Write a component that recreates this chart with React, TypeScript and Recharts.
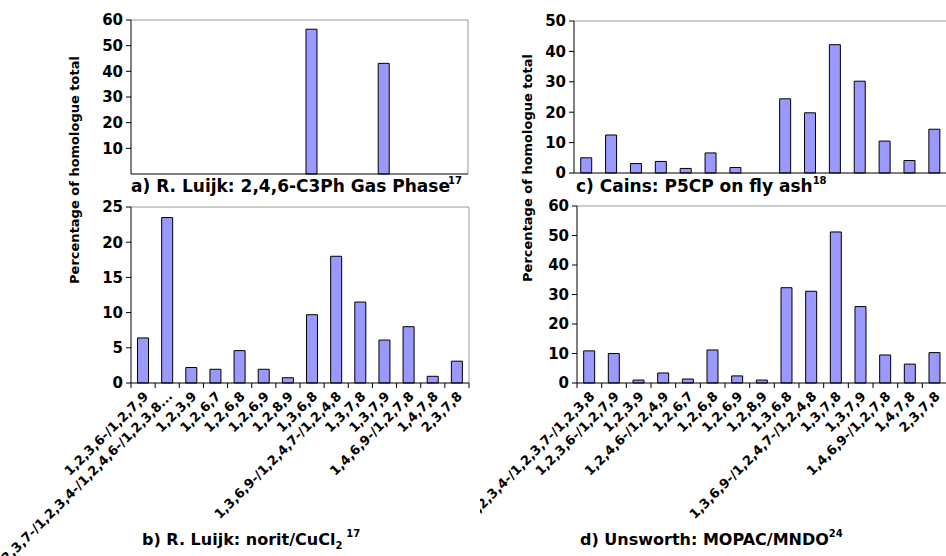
import React from "react";
import { Bar, BarChart, CartesianGrid, XAxis, YAxis } from "recharts";

// Categories (TCDD congeners / co-eluting groups)
const luijkCats = [
	"1,2,3,6-/1,2,7,9",
	"1,2,3,7-/1,2,3,4-/1,2,4,6-/1,2,3,8...",
	"1,2,3,9",
	"1,2,6,7",
	"1,2,6,8",
	"1,2,6,9",
	"1,2,8,9",
	"1,3,6,8",
	"1,3,6,9-/1,2,4,7-/1,2,4,8",
	"1,3,7,8",
	"1,3,7,9",
	"1,4,6,9-/1,2,7,8",
	"1,4,7,8",
	"2,3,7,8",
];
const unsworthCats = [
	"1,2,3,4-/1,2,3,7-/1,2,3,8",
	"1,2,3,6-/1,2,7,9",
	"1,2,3,9",
	"1,2,4,6-/1,2,4,9",
	"1,2,6,7",
	"1,2,6,8",
	"1,2,6,9",
	"1,2,8,9",
	"1,3,6,8",
	"1,3,6,9-/1,2,4,7-/1,2,4,8",
	"1,3,7,8",
	"1,3,7,9",
	"1,4,6,9-/1,2,7,8",
	"1,4,7,8",
	"2,3,7,8",
];

// Percentage of homologue total
const gasPhase = [0, 0, 0, 0, 0, 0, 0, 56.4, 0, 0, 43.1, 0, 0, 0];
const noritCuCl2 = [6.4, 23.5, 2.2, 1.95, 4.6, 1.95, 0.75, 9.7, 18.0, 11.5, 6.1, 8.0, 0.95, 3.1];
const flyAsh = [5.0, 12.5, 3.1, 3.8, 1.5, 6.6, 1.8, 0, 24.4, 19.8, 42.2, 30.2, 10.5, 4.1, 14.4];
const mopac = [10.9, 10.0, 1.0, 3.4, 1.35, 11.2, 2.4, 1.0, 32.3, 31.1, 51.2, 25.9, 9.5, 6.4, 10.3];

const ticksA = [10, 20, 30, 40, 50, 60];
const ticksB = [0, 5, 10, 15, 20, 25];
const ticksC = [0, 10, 20, 30, 40, 50];
const ticksD = [0, 10, 20, 30, 40, 50, 60];

const FONT = "'DejaVu Sans', Arial, sans-serif";
const BAR_FILL = "#9999ff";

const toRows = (cats: string[], vals: number[]) => cats.map((c, i) => ({ cat: c, v: vals[i] }));

const yTick = { fill: "#000", fontSize: 15, fontWeight: "bold", fontFamily: FONT };

function SlantTick(props: any) {
	const { x, y, payload, index, visibleTicksCount, width } = props;
	const half = payload?.offset ?? width / visibleTicksCount / 2;
	const ax = x + 6;
	const ay = y + 9;
	return (
		<g>
			<line x1={x - half} x2={x - half} y1={y - 5} y2={y} stroke="#000" />
			{index === visibleTicksCount - 1 && <line x1={x + half} x2={x + half} y1={y - 5} y2={y} stroke="#000" />}
			<text
				x={ax}
				y={ay}
				textAnchor="end"
				transform={`rotate(-45 ${ax} ${ay})`}
				fill="#000"
				fontSize={13}
				fontWeight="bold"
				fontFamily={FONT}
			>
				{payload.value}
			</text>
		</g>
	);
}

const frame = {
	stroke: "#999",
	horizontalCoordinatesGenerator: ({ offset }: any) => [offset.top],
	verticalCoordinatesGenerator: ({ offset }: any) => [offset.left + offset.width],
};

type PanelProps = {
	rows: { cat: string; v: number }[];
	width: number;
	height: number;
	top: number;
	right: number;
	yWidth: number;
	xHeight: number;
	max: number;
	ticks: number[];
	labels?: boolean;
};

function Panel({ rows, width, height, top, right, yWidth, xHeight, max, ticks, labels }: PanelProps) {
	return (
		<BarChart
			width={width}
			height={height}
			data={rows}
			margin={{ top, right, bottom: 0, left: 0 }}
			barCategoryGap="27%"
			style={{ overflow: "visible" }}
		>
			<CartesianGrid {...frame} />
			<XAxis
				dataKey="cat"
				height={xHeight}
				interval={0}
				axisLine={{ stroke: "#000" }}
				tickLine={false}
				tickSize={5}
				tickMargin={0}
				tick={labels ? <SlantTick /> : false}
			/>
			<YAxis
				width={yWidth}
				domain={[0, max]}
				ticks={ticks}
				interval={0}
				axisLine={{ stroke: "#000" }}
				tickLine={{ stroke: "#000" }}
				tickSize={5}
				tickMargin={3}
				tick={yTick}
			/>
			<Bar dataKey="v" fill={BAR_FILL} stroke="#000" strokeWidth={1} isAnimationActive={false} />
		</BarChart>
	);
}

const capStyle = { fontFamily: FONT, fontWeight: "bold", fill: "#000" } as const;

export default function App() {
	return (
		<div style={{ position: "absolute", left: 0, top: 0, width: 946, height: 556, overflow: "hidden", background: "#fff" }}>
			<div style={{ position: "absolute", left: 0, top: 0 }}>
				<Panel rows={toRows(luijkCats, gasPhase)} width={470} height={200} top={20} right={2} yWidth={131} xHeight={26} max={60} ticks={ticksA} />
			</div>
			<div style={{ position: "absolute", left: 480, top: 0 }}>
				<Panel rows={toRows(unsworthCats, flyAsh)} width={480} height={200} top={21} right={13} yWidth={94} xHeight={27} max={50} ticks={ticksC} />
			</div>
			<div style={{ position: "absolute", left: 0, top: 190 }}>
				<Panel rows={toRows(luijkCats, noritCuCl2)} width={470} height={366} top={17} right={1} yWidth={131} xHeight={173} max={25} ticks={ticksB} labels />
			</div>
			<div style={{ position: "absolute", left: 480, top: 190 }}>
				<Panel rows={toRows(unsworthCats, mopac)} width={480} height={366} top={16} right={13} yWidth={97} xHeight={173} max={60} ticks={ticksD} labels />
			</div>
			<svg width={946} height={556} style={{ position: "absolute", left: 0, top: 0, pointerEvents: "none" }}>
				<text {...capStyle} fontSize={13} textAnchor="middle" transform="translate(79 170) rotate(-90)">
					Percentage of homologue total
				</text>
				<text {...capStyle} fontSize={13} textAnchor="middle" transform="translate(532 168) rotate(-90)">
					Percentage of homologue total
				</text>
				<text {...capStyle} fontSize={17} x={131} y={192}>
					a) R. Luijk: 2,4,6-C3Ph Gas Phase
					<tspan fontSize={10} dx={-2} dy={-8}>17</tspan>
				</text>
				<text {...capStyle} fontSize={17} x={576} y={192}>
					c) Cains: P5CP on fly ash
					<tspan fontSize={10} dx={0} dy={-8}>18</tspan>
				</text>
				<text {...capStyle} fontSize={16} x={142} y={545}>
					b) R. Luijk: norit/CuCl
					<tspan fontSize={10} dy={4}>2</tspan>
					<tspan fontSize={10} dx={4} dy={-12}>17</tspan>
				</text>
				<text {...capStyle} fontSize={16} x={580} y={545}>
					d) Unsworth: MOPAC/MNDO
					<tspan fontSize={10} dx={0} dy={-8}>24</tspan>
				</text>
			</svg>
		</div>
	);
}
